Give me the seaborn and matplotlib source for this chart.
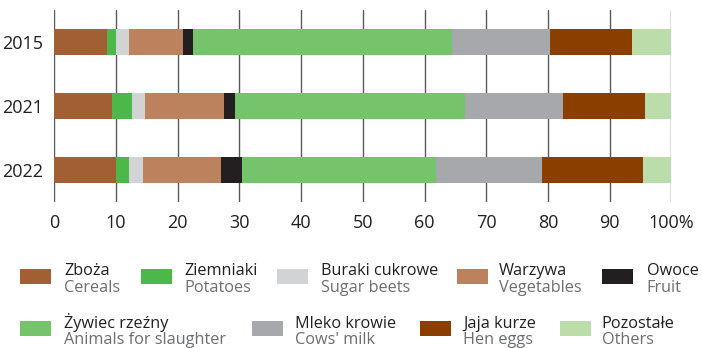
import numpy as np
import pandas as pd
import matplotlib
matplotlib.use("Agg")
import matplotlib.pyplot as plt
from matplotlib.patches import Rectangle
import seaborn as sns

years = ["2015", "2021", "2022"]
labels_pl = ["Zboża", "Ziemniaki", "Buraki cukrowe", "Warzywa", "Owoce",
             "Żywiec rzeźny", "Mleko krowie", "Jaja kurze", "Pozostałe"]
labels_en = ["Cereals", "Potatoes", "Sugar beets", "Vegetables", "Fruit",
             "Animals for slaughter", "Cows' milk", "Hen eggs", "Others"]
colors = ["#A25F33", "#4CB849", "#D2D3D5", "#BC825D", "#231F20",
          "#75C36A", "#A7A8AC", "#8A3E00", "#BBDDAA"]

cereals = [8.5, 9.4, 10.0]
potatoes = [1.5, 3.2, 2.1]
sugar_beets = [2.1, 2.1, 2.2]
vegetables = [8.7, 12.8, 12.7]
fruit = [1.7, 1.8, 3.4]
animals = [42.0, 37.3, 31.5]
milk = [15.8, 15.8, 17.1]
eggs = [13.4, 13.3, 16.4]
others = [6.3, 4.3, 4.6]

series = [cereals, potatoes, sugar_beets, vegetables, fruit,
          animals, milk, eggs, others]
xticks = [0, 10, 20, 30, 40, 50, 60, 70, 80, 90, 100]
xtick_labels = ["0", "10", "20", "30", "40", "50", "60", "70", "80", "90", "100%"]

sns.set_theme(style="white")
plt.rcParams["font.family"] = ["Open Sans", "DejaVu Sans"]

fig = plt.figure(figsize=(7.02, 3.48), dpi=100)
ax = fig.add_axes([0.0774, 0.4204, 0.8789, 0.5509])

# stacked bars: draw cumulative totals from the outermost segment inward
cum = np.cumsum(np.array(series), axis=0)
for i in range(len(series) - 1, -1, -1):
    df = pd.DataFrame({"year": years, "value": cum[i]})
    sns.barplot(data=df, x="value", y="year", order=years, orient="h",
                color=colors[i], saturation=1, width=0.4, ax=ax, zorder=3,
                edgecolor="none")

ax.set_xlim(0, 100)
ax.set_ylim(2.5, -0.5)
ax.set_xticks(xticks)
ax.set_xticklabels(xtick_labels)
ax.set_xlabel("")
ax.set_ylabel("")
for s in ax.spines.values():
    s.set_visible(False)
ax.grid(axis="x", color="#5a5a5a", linewidth=1.0, zorder=0)
ax.grid(axis="y", visible=False)
ax.tick_params(axis="both", length=0, labelsize=13, colors="#231F20")
ax.tick_params(axis="x", pad=9)
ax.tick_params(axis="y", pad=8)

# two-line legend below the chart
W, H = 702.0, 348.0
row1 = [(20, 64.3), (141, 184.3), (277, 321), (457, 498.7), (602, 646.7)]
row2 = [(20, 64.3), (252, 295), (420, 463.3), (560, 601.7)]
positions = [(px, tx, 0) for px, tx in row1] + [(px, tx, 1) for px, tx in row2]
for k, (px, tx, r) in enumerate(positions):
    yc = 276 if r == 0 else 328.5
    fig.patches.append(Rectangle((px / W, 1 - (yc + 7.5) / H), 31 / W, 15 / H,
                                 transform=fig.transFigure, facecolor=colors[k],
                                 edgecolor="none"))
    top_base = 275 if r == 0 else 327.5
    fig.text(tx / W, 1 - top_base / H, labels_pl[k], fontsize=11.7,
             color="#231F20", ha="left", va="baseline")
    fig.text(tx / W, 1 - (top_base + 16.5) / H, labels_en[k], fontsize=11.7,
             color="#6D6E71", ha="left", va="baseline")

fig.savefig("out.png", dpi=100)
